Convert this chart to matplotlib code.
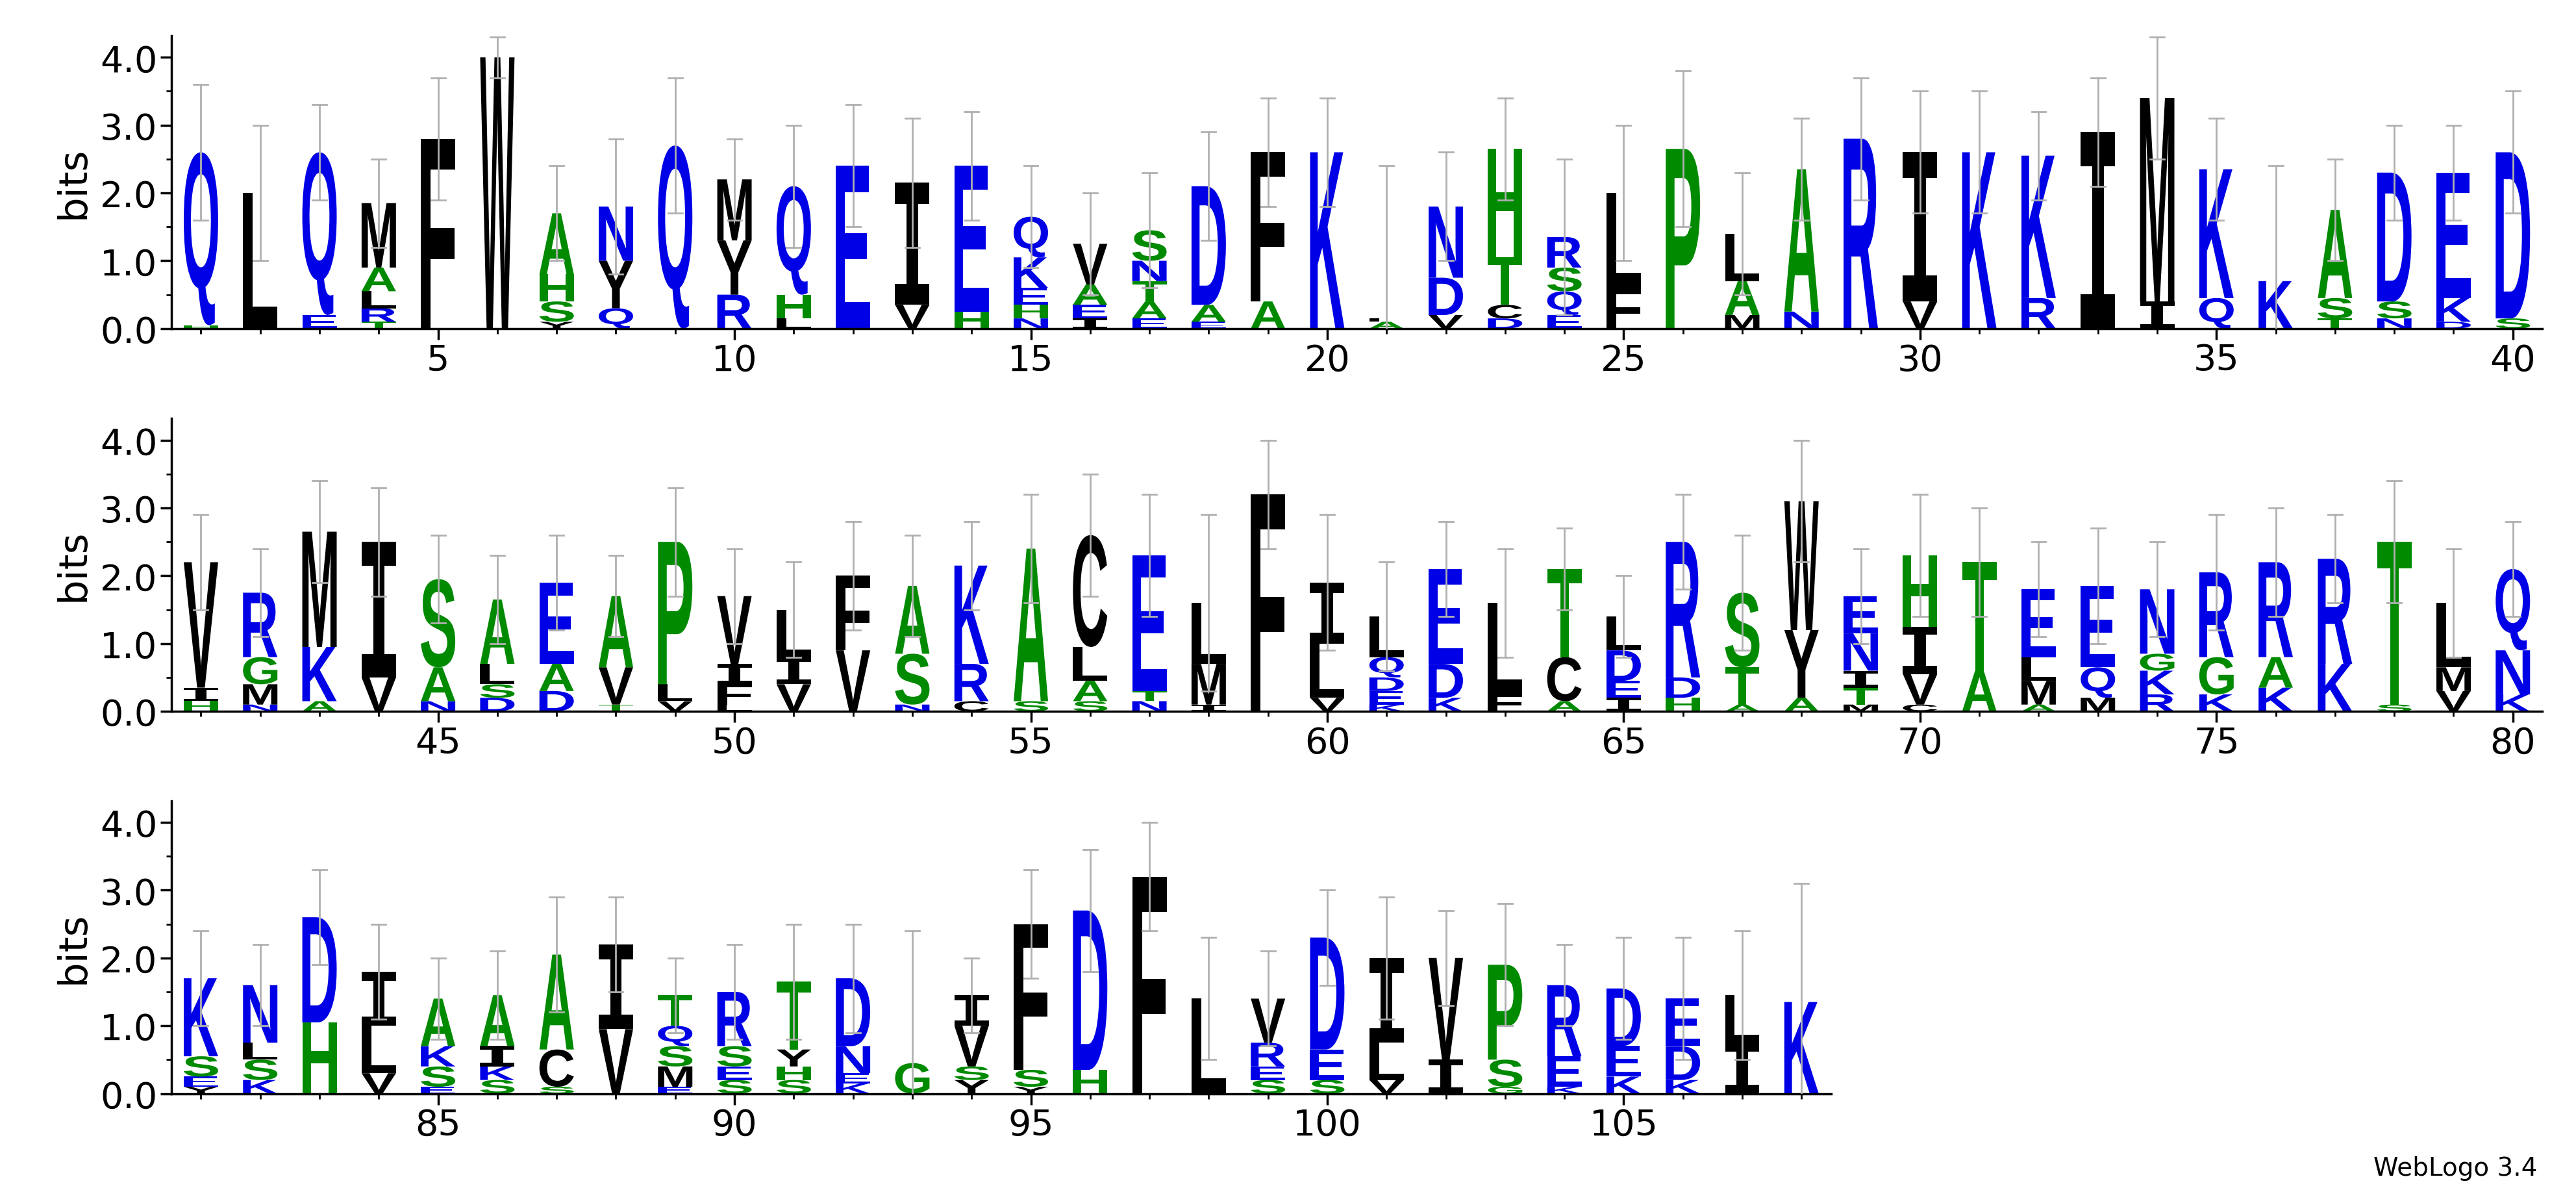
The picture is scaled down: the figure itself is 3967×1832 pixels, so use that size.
import matplotlib
matplotlib.use("Agg")
import matplotlib.pyplot as plt
from matplotlib.textpath import TextPath
from matplotlib.font_manager import FontProperties
from matplotlib.patches import PathPatch
from matplotlib.transforms import Affine2D

# stacks: bottom -> top, "Letter height"
stacks = [
 "H.05 Q2.55","L2.0","E.2 Q2.4","T.1 R.2 L.25 A.35 M.95","F2.8","W4.0","Y.1 S.3 H.4 A.9",
 "Q.3 Y.7 N.8","Q2.7","R.5 Y.8 M.9","L.15 H.35 Q1.6","E2.4","V.35 I1.8","H.25 E2.15",
 "N.15 H.2 E.25 K.45 Q.6","I.15 E.2 A.3 V.6","E.15 A.25 T.3 N.3 S.45","E.1 A.25 D1.75",
 "A.4 F2.2","K2.6","A.1 L.05","V.2 D.55 N1.05","D.15 C.2 T.7 H1.6","E.2 Q.35 S.35 R.45",
 "F.6 L1.4","P2.65","M.2 A.5 L.7","N.25 A2.1","R2.8","V.4 I2.2","K2.6","R.45 K2.1","I2.9",
 "I.4 M3.0","Q.45 K1.9","K.7","T.15 S.3 A1.3","N.15 S.25 D1.9","D.1 K.35 E1.85","S.15 D2.45",
 # 41-80
 "H.15 I.2 V1.85","N.1 M.3 G.4 R.95","A.15 K.8 M1.7","V.5 I2.0","N.15 A.5 S1.3",
 "D.2 S.2 L.3 A.95","D.3 A.4 E1.2","T.1 V.55 A1.05","V.15 L.25 P2.1","L.1 F.3 I.3 V1.0",
 "V.4 I.4 L.7","V.9 F1.1","N.1 S.75 A1.0","C.15 R.55 K1.45","S.15 A2.25","S.15 A.3 L.5 C1.65",
 "N.15 T.15 E2.0","I.1 M.6 L.9","F3.2","V.2 L.8 I.9","K.1 E.2 D.2 Q.3 L.6","K.2 D.5 E1.4",
 "F.25 L1.35","A.15 C.65 T1.3","I.2 E.25 D.45 L.5","H.2 D.3 R2.0","A.1 T.55 S1.1",
 "A.2 Y1.0 W1.9","M.1 T.25 I.25 N.55 E.55","C.1 V.45 I.7 H1.05","A.6 T1.6","A.1 M.35 L.35 E1.0",
 "M.2 Q.45 E1.2","R.25 K.35 G.25 N.95","K.25 G.55 R1.25","K.35 A.45 R1.4","K.7 R1.55",
 "S.1 T2.4","V.3 M.35 L.95","K.25 N.65 Q1.2",
 # 81-108
 "Y.1 E.15 S.3 K1.15","K.2 S.3 L.25 N.85","H1.05 D1.55","V.3 L.7 I.8","E.1 S.3 K.3 A.7",
 "S.2 K.2 I.3 A.75","S.1 C.55 A1.4","V.95 I1.25","E.1 M.3 S.3 Q.3 T.45","S.2 E.2 S.3 R.8",
 "S.2 H.2 Y.25 T1.0","K.15 E.15 N.4 D1.0","G.45","Y.2 S.2 V.6 I.45","Y.1 S.25 F2.15",
 "H.35 D2.35","F3.2","L1.4","S.2 E.2 R.35 V.65","S.2 E.45 D1.65","V.2 L.55 I1.25","I.5 V1.5",
 "G.1 S.4 P1.4","K.1 E.45 R1.05","K.25 E.45 D.85","K.2 D.5 E.7","I.75 L.7","K1.35",
]
err_top = [3.6,3.0,3.3,2.5,3.7,4.3,2.4,2.8,3.7,2.8,3.0,3.3,3.1,3.2,2.4,2.0,2.3,2.9,3.4,3.4,
           2.4,2.6,3.4,2.5,3.0,3.8,2.3,3.1,3.7,3.5,3.5,3.2,3.7,4.3,3.1,2.4,2.5,3.0,3.0,3.5,
           2.9,2.4,3.4,3.3,2.6,2.3,2.6,2.3,3.3,2.4,2.2,2.8,2.6,2.8,3.2,3.5,3.2,2.9,4.0,2.9,
           2.2,2.8,2.4,2.7,2.0,3.2,2.6,4.0,2.4,3.2,3.0,2.5,2.7,2.5,2.9,3.0,2.9,3.4,2.4,2.8,
           2.4,2.2,3.3,2.5,2.0,2.1,2.9,2.9,2.0,2.2,2.5,2.5,2.4,2.0,3.3,3.6,4.0,2.3,2.1,3.0,
           2.9,2.7,2.8,2.2,2.3,2.3,2.4,3.1]

BLUE, GREEN, BLACK = "#0000e6", "#008a00", "#000000"
color = {}
for c in "RKDENQ": color[c] = BLUE
for c in "SGHTAP": color[c] = GREEN
for c in "YVMCLFIW": color[c] = BLACK

fp = FontProperties(family="Liberation Sans", weight="bold")
fp_i = FontProperties(family="DejaVu Sans Mono", weight="bold")

W, H = 3967, 1833
fig = plt.figure(figsize=(W/100, H/100), dpi=100)
rows = [(1, 40, 0.7235), (41, 80, 0.402), (81, 108, 0.081)]
left, full_w, ah = 0.0665, 0.987-0.0665, 0.246
half = 0.29
for start, end, bot in rows:
    n = end - start + 1
    ax = fig.add_axes([left, bot, full_w*n/40, ah])
    ax.set_xlim(start-0.5, end+0.5)
    ax.set_ylim(0, 4.32)
    for p in range(start, end+1):
        y = 0.0
        for tok in stacks[p-1].split():
            L, h = tok[0], float(tok[1:])
            tp = TextPath((0, 0), L, size=1, prop=fp_i if L == "I" else fp)
            ext = tp.get_extents()
            x0, x1 = p-half, p+half
            tr = Affine2D().translate(-ext.x0, -ext.y0).scale((x1-x0)/ext.width, h/ext.height).translate(x0, y)
            ax.add_patch(PathPatch(tr.transform_path(tp), fc=color[L], ec="none", lw=0))
            y += h
        e = err_top[p-1] - y
        ax.plot([p, p], [max(y-e, 0), y+e], color="#b0b0b0", lw=2, zorder=5)
        for yy in (y-e, y+e):
            if yy > 0:
                ax.plot([p-0.12, p+0.12], [yy, yy], color="#b0b0b0", lw=2, zorder=5)
    for s in ("top", "right"):
        ax.spines[s].set_visible(False)
    for s in ("left", "bottom"):
        ax.spines[s].set_linewidth(2.5)
    ax.set_yticks([0, 1, 2, 3, 4])
    ax.set_yticklabels(["0.0", "1.0", "2.0", "3.0", "4.0"])
    ax.set_yticks([0.5, 1.5, 2.5, 3.5], minor=True)
    xt = [x for x in range(5, end+1, 5) if x >= start]
    ax.set_xticks(xt)
    ax.set_xticks(range(start, end+1), minor=True)
    ax.tick_params(labelsize=40, width=2.5, length=12, direction="out")
    ax.tick_params(which="minor", width=2, length=6)
    ax.set_ylabel("bits", fontsize=44, labelpad=8)
fig.text(0.985, 0.008, "WebLogo 3.4", ha="right", va="bottom", fontsize=28)
fig.savefig("out.png", dpi=100)
